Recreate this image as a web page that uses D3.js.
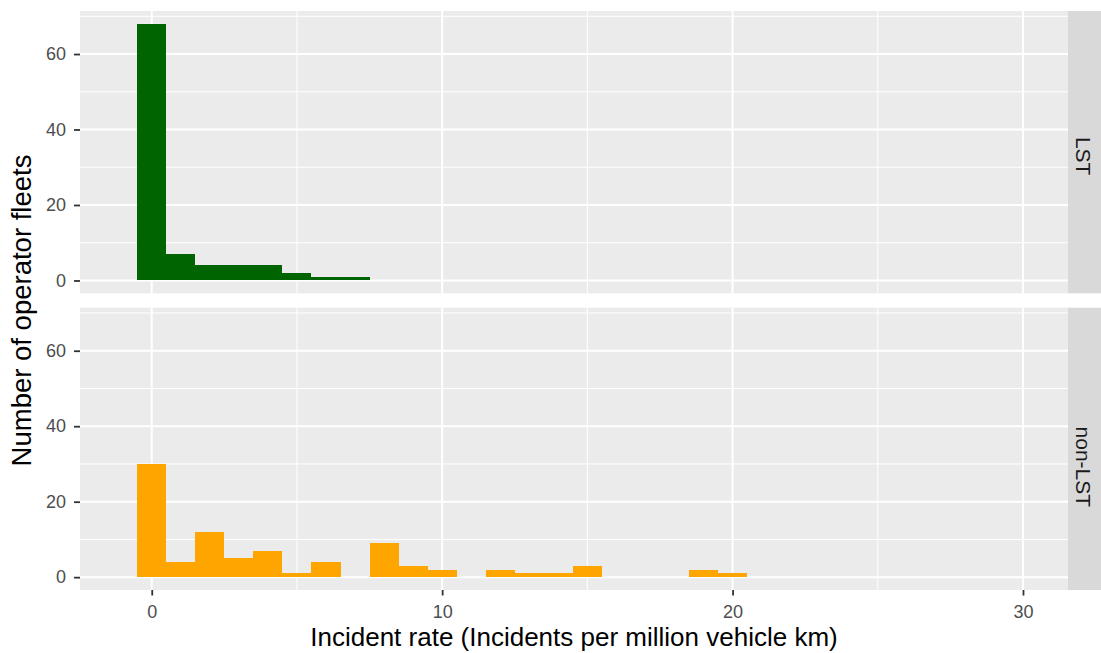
<!DOCTYPE html>
<html>
<head>
<meta charset="utf-8">
<script src="https://cdn.jsdelivr.net/npm/d3@7"></script>
<style>
  html, body { margin: 0; padding: 0; background: #fff; }
  svg { display: block; font-family: "Liberation Sans", Arial, Helvetica, sans-serif; }
</style>
</head>
<body>
<svg id="chart" width="1101" height="653"></svg>
<script>
// Histogram bins (centre of each 1-wide bin) and fleet counts per facet
const binWidth = 1;
const lstBins = [0, 1, 2, 3, 4, 5, 6, 7];
const lstCounts = [68, 7, 4, 4, 4, 2, 1, 1];
const nonLstBins = [0, 1, 2, 3, 4, 5, 6, 8, 9, 10, 12, 13, 14, 15, 19, 20];
const nonLstCounts = [30, 4, 12, 5, 7, 1, 4, 9, 3, 2, 2, 1, 1, 3, 2, 1];

const facetLabels = ["LST", "non-LST"];
const facetColors = ["#006400", "#FFA500"];

const xTicks = [0, 10, 20, 30];
const xMinor = [5, 15, 25];
const yTicks = [0, 20, 40, 60];
const yMinor = [10, 30, 50, 70];

const xTitle = "Incident rate (Incidents per million vehicle km)";
const yTitle = "Number of operator fleets";

const svg = d3.select("#chart");

const panelLeft = 80, panelRight = 1068;
const stripRight = 1101;
const panels = [
  { top: 11, bottom: 293.3, bins: lstBins, counts: lstCounts, labelShift: 4 },
  { top: 307.7, bottom: 590, bins: nonLstBins, counts: nonLstCounts, labelShift: 18 }
];

const x = d3.scaleLinear().domain([-2.47, 31.55]).range([panelLeft, panelRight]);

panels.forEach((p, i) => {
  const y = d3.scaleLinear().domain([-3.4, 71.4]).range([p.bottom, p.top]);
  const g = svg.append("g");

  // panel background
  g.append("rect")
    .attr("x", panelLeft).attr("y", p.top)
    .attr("width", panelRight - panelLeft).attr("height", p.bottom - p.top)
    .attr("fill", "#ebebeb");

  // minor grid
  g.selectAll(".ymin").data(yMinor).join("line")
    .attr("x1", panelLeft).attr("x2", panelRight)
    .attr("y1", d => y(d)).attr("y2", d => y(d))
    .attr("stroke", "#fff").attr("stroke-width", 1);
  g.selectAll(".xmin").data(xMinor).join("line")
    .attr("y1", p.top).attr("y2", p.bottom)
    .attr("x1", d => x(d)).attr("x2", d => x(d))
    .attr("stroke", "#fff").attr("stroke-width", 1);

  // major grid
  g.selectAll(".ymaj").data(yTicks).join("line")
    .attr("x1", panelLeft).attr("x2", panelRight)
    .attr("y1", d => y(d)).attr("y2", d => y(d))
    .attr("stroke", "#fff").attr("stroke-width", 2);
  g.selectAll(".xmaj").data(xTicks).join("line")
    .attr("y1", p.top).attr("y2", p.bottom)
    .attr("x1", d => x(d)).attr("x2", d => x(d))
    .attr("stroke", "#fff").attr("stroke-width", 2);

  // bars
  const rows = p.bins.map((b, k) => ({ b, c: p.counts[k] }));
  g.selectAll(".bar").data(rows).join("rect")
    .attr("x", d => x(d.b - binWidth / 2))
    .attr("width", d => x(d.b + binWidth / 2) - x(d.b - binWidth / 2))
    .attr("y", d => y(d.c))
    .attr("height", d => y(0) - y(d.c))
    .attr("fill", facetColors[i])
    .attr("shape-rendering", "crispEdges");

  // y axis
  const yAxis = d3.axisLeft(y).tickValues(yTicks).tickSize(6).tickPadding(8);
  const ya = svg.append("g").attr("transform", `translate(${panelLeft},0)`).call(yAxis);
  ya.select(".domain").remove();
  ya.selectAll(".tick line").attr("stroke", "#333").attr("stroke-width", 1.8);
  ya.selectAll(".tick text").attr("fill", "#4d4d4d").attr("font-size", 18)
    .attr("font-family", "Liberation Sans, Arial, sans-serif");

  // facet strip
  g.append("rect")
    .attr("x", panelRight).attr("y", p.top)
    .attr("width", stripRight - panelRight).attr("height", p.bottom - p.top)
    .attr("fill", "#d9d9d9");
  const cx = (panelRight + stripRight) / 2 - 1, cy = (p.top + p.bottom) / 2 + p.labelShift;
  g.append("text")
    .attr("transform", `translate(${cx},${cy}) rotate(90)`)
    .attr("text-anchor", "middle").attr("dy", "0.35em")
    .attr("fill", "#1a1a1a").attr("font-size", 21)
    .text(facetLabels[i]);
});

// x axis under the lower panel
const xAxis = d3.axisBottom(x).tickValues(xTicks).tickSize(5.5).tickPadding(9.5);
const xa = svg.append("g").attr("transform", `translate(0,${panels[1].bottom})`).call(xAxis);
xa.select(".domain").remove();
xa.selectAll(".tick line").attr("stroke", "#333").attr("stroke-width", 1.8);
xa.selectAll(".tick text").attr("fill", "#4d4d4d").attr("font-size", 18)
  .attr("font-family", "Liberation Sans, Arial, sans-serif");

// axis titles
svg.append("text")
  .attr("x", (panelLeft + panelRight) / 2).attr("y", 646)
  .attr("text-anchor", "middle").attr("fill", "#000").attr("font-size", 26)
  .text(xTitle);

svg.append("text")
  .attr("transform", `translate(31,${(panels[0].top + panels[1].bottom) / 2 + 10}) rotate(-90)`)
  .attr("text-anchor", "middle").attr("fill", "#000").attr("font-size", 27.5)
  .text(yTitle);
</script>
</body>
</html>
